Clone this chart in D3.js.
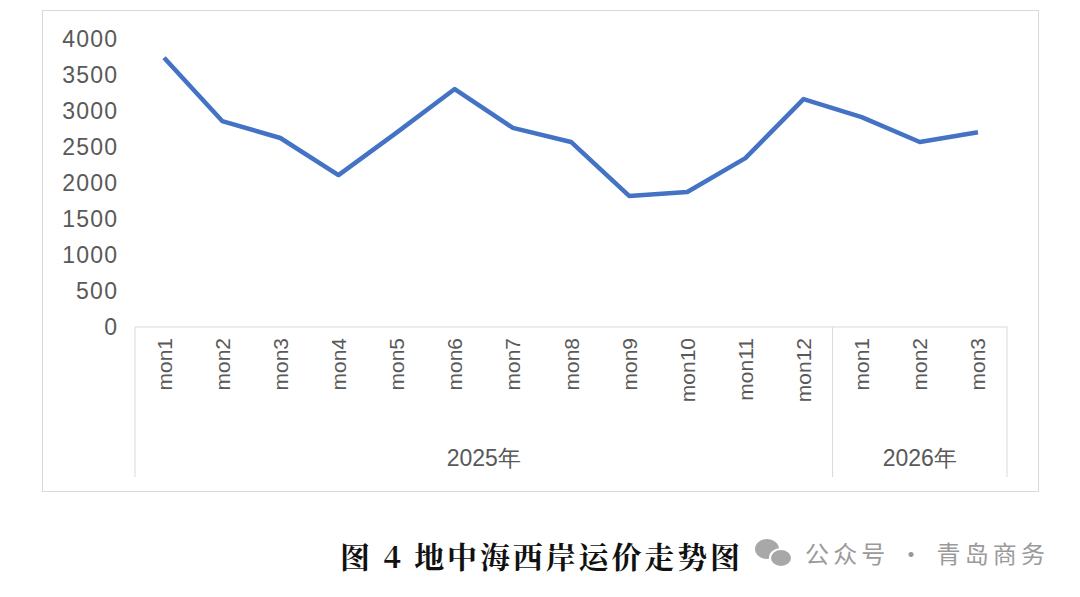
<!DOCTYPE html><html><head><meta charset="utf-8"><script src="https://cdn.jsdelivr.net/npm/d3@7"></script>
<style>body{margin:0;background:#fff}</style></head><body><svg id="c" width="1080" height="597"></svg><script>
const months=["mon1","mon2","mon3","mon4","mon5","mon6","mon7","mon8","mon9","mon10","mon11","mon12","mon1","mon2","mon3"];
const years=[{label:"2025年",start:0,end:12},{label:"2026年",start:12,end:15}];
const values=[3740,2860,2625,2110,2700,3305,2765,2570,1820,1875,2345,3165,2915,2570,2705];
const yTicks=[0,500,1000,1500,2000,2500,3000,3500,4000];
const svg=d3.select("#c"),F="Liberation Sans, Arial, sans-serif";
svg.append("rect").attr("x",42.5).attr("y",10.5).attr("width",996).attr("height",481).attr("fill","none").attr("stroke","#d9d9d9");
const L=135,R=1007;
const x=d3.scaleLinear().domain([0,15]).range([L,R]);
const y=d3.scaleLinear().domain([0,4000]).range([327,39]);
svg.selectAll(".yt").data(yTicks).join("text").attr("x",117).attr("y",d=>y(d)).attr("dy","0.35em").attr("text-anchor","end").attr("font-family",F).attr("font-size",23).attr("textLength",d=>String(d).length*13.7).attr("fill","#595959").text(d=>d);
svg.append("line").attr("x1",L).attr("x2",R).attr("y1",327).attr("y2",327).attr("stroke","#d9d9d9");
[0,12,15].forEach(i=>svg.append("line").attr("x1",x(i)).attr("x2",x(i)).attr("y1",327).attr("y2",477).attr("stroke","#d9d9d9"));
months.forEach((m,i)=>svg.append("text").attr("transform",`translate(${x(i+0.5)+7.5},338) rotate(-90)`).attr("text-anchor","end").attr("font-family",F).attr("font-size",21).attr("fill","#595959").text(m));
years.forEach(g=>svg.append("text").attr("x",x((g.start+g.end)/2)).attr("y",466).attr("text-anchor","middle").attr("font-family",F).attr("font-size",23).attr("fill","#595959").text(g.label));
svg.append("text").attr("x",540).attr("y",568).attr("text-anchor","middle").attr("font-family","Noto Serif CJK SC, Noto Sans CJK SC").attr("font-weight","bold").attr("font-size",30).attr("textLength",400).attr("fill","#111").text("图 4  地中海西岸运价走势图");
svg.append("path").datum(values).attr("fill","none").attr("stroke","#4472c4").attr("stroke-width",4.5).attr("stroke-linejoin","round").attr("d",d3.line().x((d,i)=>x(i+0.5)).y(d=>y(d)));
svg.append("text").attr("x",1045).attr("y",563).attr("text-anchor","end").attr("font-family","Noto Sans CJK SC").attr("font-size",24).attr("textLength",240).attr("fill","#9a9a9a").text("公众号 · 青岛商务");
const w=svg.append("g").attr("fill","#a8a8a8");
w.append("ellipse").attr("cx",767).attr("cy",549).attr("rx",12).attr("ry",10);
w.append("ellipse").attr("cx",781).attr("cy",558).attr("rx",11).attr("ry",9).attr("stroke","#fff").attr("stroke-width",2);
</script></body></html>
